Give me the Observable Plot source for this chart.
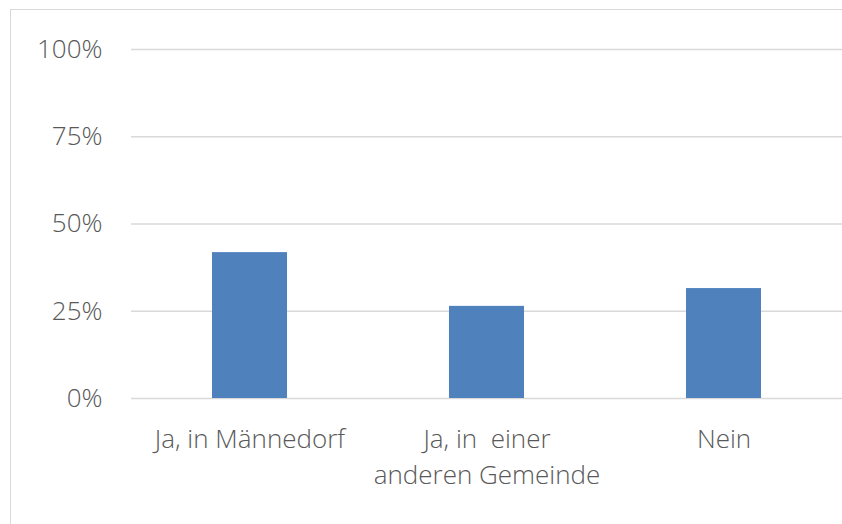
<!DOCTYPE html>
<html>
<head>
<meta charset="utf-8">
<script src="https://cdn.jsdelivr.net/npm/d3@7"></script>
<script src="https://cdn.jsdelivr.net/npm/@observablehq/plot@0.6"></script>
<style>
  html, body { margin: 0; padding: 0; background: #fff; }
  #wrap { position: relative; width: 842px; height: 524px; overflow: hidden; }
  #frame { position: absolute; left: 10px; top: 9px; width: 840px; height: 530px; border: 1px solid #d9d9d9; box-sizing: border-box; pointer-events: none; }
  svg text { white-space: pre; }
</style>
</head>
<body>
<div id="wrap"><div id="frame"></div></div>
<script>
const categories = ["Ja, in Männedorf", "Ja, in  einer\nanderen Gemeinde", "Nein"];
const values = [41.8, 26.4, 31.5];
const yTicks = [0, 25, 50, 75, 100];

const data = categories.map((c, i) => ({category: c, value: values[i]}));

const chart = Plot.plot({
  width: 842,
  height: 524,
  marginLeft: 131,
  marginRight: 0,
  marginTop: 49,
  marginBottom: 126,
  style: {fontFamily: "'Open Sans', sans-serif", fontWeight: 300, fontSize: "26px", color: "#595959", background: "transparent"},
  x: {domain: categories, paddingInner: 0.684, paddingOuter: 0.342, label: null},
  y: {domain: [0, 100], label: null},
  marks: [
    Plot.gridY(yTicks, {stroke: "#d9d9d9", strokeWidth: 1.5, strokeOpacity: 1}),
    Plot.axisY(yTicks, {tickSize: 0, tickPadding: 29, tickFormat: d => d + "%", fill: "#595959", fontSize: 26, label: null}),
    Plot.axisX({tickSize: 0, tickPadding: 25, fill: "#595959", fontSize: 26, lineHeight: 1.35, label: null}),
    Plot.barY(data, {x: "category", y: "value", fill: "#4f81bd"})
  ]
});
document.getElementById("wrap").prepend(chart);
</script>
</body>
</html>
